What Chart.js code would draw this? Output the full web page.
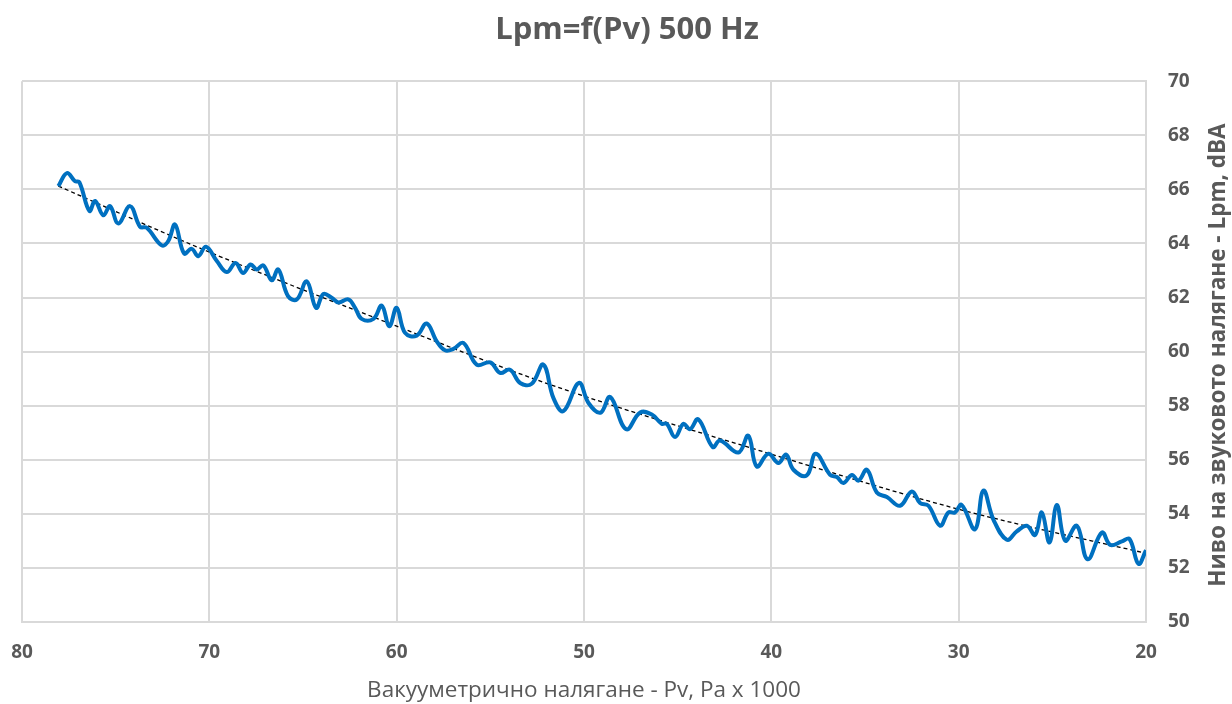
<!DOCTYPE html>
<html>
<head>
    <title>Lpm=f(Pv) 500 Hz</title>
    <script src="https://cdn.jsdelivr.net/npm/chart.js"></script>
    <style>
        html, body {
            margin: 0;
            padding: 0;
            background-color: #ffffff;
        }
        #wrap {
            width: 1232px;
            height: 704px;
        }
    </style>
</head>
<body>
    <div id="wrap"><canvas id="lpmChart"></canvas></div>

    <script>
        // Pressure Pv (Pa x 1000) and measured level Lpm (dBA)
        const pv = [
            78.06, 77.6, 77.17, 76.94, 76.4, 76.1, 75.66, 75.3, 74.86, 74.23,
            73.7, 73.34, 72.54, 72.19, 71.83, 71.35, 70.94, 70.59, 70.18, 69.6,
            69.07, 68.6, 68.2, 67.8, 67.47, 67.12, 66.67, 66.32, 65.8, 65.33,
            64.8, 64.3, 63.91, 63.47, 63.11, 62.58, 62.22, 61.87, 61.24, 60.8,
            60.39, 60.0, 59.55, 58.93, 58.4, 57.86, 57.42, 56.97, 56.44, 55.73,
            55.0, 54.48, 53.95, 53.41, 52.79, 52.17, 51.63, 51.1, 50.27, 49.76,
            49.12, 48.6, 47.75, 47.0, 46.38, 45.85, 45.58, 45.14, 44.69, 44.34,
            43.9, 43.13, 42.74, 41.76, 41.23, 40.78, 40.16, 39.62, 39.21, 38.82,
            38.11, 37.63, 36.86, 36.5, 36.15, 35.7, 35.35, 34.9, 34.37, 33.83,
            33.13, 32.5, 32.06, 31.61, 30.99, 30.55, 30.2, 29.84, 29.13, 28.68,
            28.14, 27.43, 26.9, 26.36, 25.92, 25.56, 25.15, 24.76, 24.31, 23.69,
            23.12, 22.35, 21.91, 21.29, 20.88, 20.4, 20.0
        ];
        const lpm = [
            66.12, 66.6, 66.3, 66.27, 65.2, 65.57, 65.04, 65.38, 64.74, 65.38,
            64.62, 64.58, 63.93, 64.09, 64.7, 63.63, 63.8, 63.53, 63.88, 63.35,
            62.94, 63.28, 62.91, 63.22, 63.04, 63.19, 62.64, 63.04, 62.05, 61.93,
            62.6, 61.62, 62.13, 61.99, 61.82, 61.93, 61.62, 61.21, 61.21, 61.7,
            60.94, 61.62, 60.69, 60.59, 61.04, 60.38, 60.05, 60.1, 60.32, 59.52,
            59.6, 59.21, 59.33, 58.84, 58.81, 59.52, 58.28, 57.8, 58.84, 58.1,
            57.74, 58.32, 57.13, 57.75, 57.67, 57.33, 57.33, 56.84, 57.33, 57.13,
            57.5, 56.47, 56.71, 56.27, 56.89, 55.75, 56.22, 55.88, 56.19, 55.63,
            55.42, 56.22, 55.44, 55.36, 55.14, 55.44, 55.23, 55.63, 54.79, 54.62,
            54.3, 54.83, 54.4, 54.3, 53.56, 54.05, 54.05, 54.33, 53.43, 54.86,
            53.78, 53.04, 53.35, 53.56, 53.22, 54.05, 52.94, 54.33, 53.01, 53.56,
            52.32, 53.31, 52.85, 52.98, 53.07, 52.15, 52.65
        ];

        // trend curve, points
        const trendPv = [78.06, 70.14, 60.0, 51.81, 40.06, 30.0, 20.0];
        const trendLpm = [66.12, 63.72, 60.94, 58.78, 56.22, 54.17, 52.54];

        const xTicks = [80, 70, 60, 50, 40, 30, 20];
        const yTicks = [50, 52, 54, 56, 58, 60, 62, 64, 66, 68, 70];

        const chartTitle = 'Lpm=f(Pv) 500 Hz';
        const xTitle = 'Вакууметрично налягане - Pv, Pa x 1000';
        const yTitle = 'Ниво на звуковото налягане - Lpm, dBA';

        const textGray = '#595959';
        const gridGray = '#d9d9d9';

        const toPoints = (xs, ys) => xs.map((x, i) => ({ x: x, y: ys[i] }));

        // draws the right-hand y title reading bottom to top
        const yTitlePlugin = {
            id: 'yTitlePlugin',
            afterDraw(chart) {
                const ctx = chart.ctx;
                ctx.save();
                ctx.translate(1219, 355);
                ctx.rotate(-Math.PI / 2);
                ctx.font = 'bold 22.5px "Open Sans"';
                ctx.fillStyle = textGray;
                ctx.textAlign = 'center';
                ctx.textBaseline = 'middle';
                ctx.fillText(yTitle, 0, 0);
                ctx.restore();
            }
        };

        const config = {
            type: 'line',
            data: {
                datasets: [
                    {
                        label: 'Lpm',
                        data: toPoints(pv, lpm),
                        borderColor: '#0070C0',
                        borderWidth: 4,
                        pointRadius: 0,
                        tension: 0.4,
                        fill: false
                    },
                    {
                        label: 'Trend',
                        data: toPoints(trendPv, trendLpm),
                        borderColor: '#000000',
                        borderWidth: 1.3,
                        borderDash: [4, 3],
                        pointRadius: 0,
                        cubicInterpolationMode: 'monotone',
                        fill: false
                    }
                ]
            },
            options: {
                responsive: true,
                maintainAspectRatio: false,
                animation: false,
                layout: {
                    padding: { left: 22, right: 0, top: 0, bottom: 0 }
                },
                plugins: {
                    legend: { display: false },
                    tooltip: { enabled: false },
                    title: {
                        display: true,
                        text: chartTitle,
                        color: textGray,
                        font: { family: 'Open Sans', size: 31, weight: 'bold' },
                        padding: { top: 12, bottom: 32 }
                    }
                },
                scales: {
                    x: {
                        type: 'linear',
                        reverse: true,
                        min: 20,
                        max: 80,
                        afterBuildTicks: (scale) => {
                            scale.ticks = xTicks.map(v => ({ value: v }));
                        },
                        afterFit: (scale) => {
                            scale.height = 82;
                            scale.paddingLeft = 0;
                            scale.paddingRight = 0;
                        },
                        grid: {
                            color: gridGray,
                            lineWidth: 2,
                            drawTicks: false
                        },
                        border: { color: gridGray, width: 2 },
                        ticks: {
                            color: textGray,
                            padding: 19,
                            maxRotation: 0,
                            font: { family: 'Open Sans', size: 19, weight: 'bold' }
                        },
                        title: {
                            display: true,
                            text: xTitle,
                            color: textGray,
                            padding: { top: 8, bottom: 0 },
                            font: { family: 'Open Sans', size: 22.5 }
                        }
                    },
                    y: {
                        position: 'right',
                        min: 50,
                        max: 70,
                        afterBuildTicks: (scale) => {
                            scale.ticks = yTicks.map(v => ({ value: v }));
                        },
                        afterFit: (scale) => { scale.width = 86; },
                        grid: {
                            color: gridGray,
                            lineWidth: 2,
                            drawTicks: false
                        },
                        border: { color: gridGray, width: 2 },
                        ticks: {
                            color: textGray,
                            padding: 22,
                            font: { family: 'Open Sans', size: 19, weight: 'bold' }
                        }
                    }
                }
            },
            plugins: [yTitlePlugin]
        };

        const ctx = document.getElementById('lpmChart').getContext('2d');
        new Chart(ctx, config);
    </script>
</body>
</html>
